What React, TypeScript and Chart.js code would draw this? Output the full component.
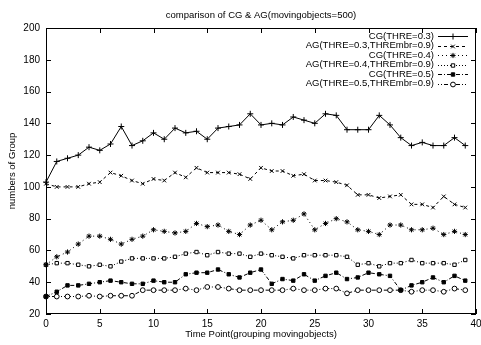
import React, { useEffect, useRef } from 'react';
import { Chart, registerables } from 'chart.js';
import { drawPoint } from 'chart.js/helpers';

Chart.register(...registerables);

const chartTitle = 'comparison of CG & AG(movingobjects=500)';
const xTitle = 'Time Point(grouping movingobjects)';
const yTitle = 'numbers of Group';

const timePoints = [0, 1, 2, 3, 4, 5, 6, 7, 8, 9, 10, 11, 12, 13, 14, 15, 16, 17, 18, 19, 20, 21, 22, 23, 24, 25, 26, 27, 28, 29, 30, 31, 32, 33, 34, 35, 36, 37, 38, 39];

const seriesLabels = [
  'CG(THRE=0.3)',
  'AG(THRE=0.3,THREmbr=0.9)',
  'CG(THRE=0.4)',
  'AG(THRE=0.4,THREmbr=0.9)',
  'CG(THRE=0.5)',
  'AG(THRE=0.5,THREmbr=0.9)',
];

const cg03 = [103, 116, 118, 120, 125, 123, 127, 138, 126, 129, 134, 130, 137, 134, 135, 130, 137, 138, 139, 146, 139, 140, 139, 144, 142, 140, 146, 145, 136, 136, 136, 145, 139, 131, 126, 128, 126, 126, 131, 126];
const ag03 = [102, 100, 100, 100, 102, 103, 109, 107, 104, 102, 105, 104, 109, 106, 112, 109, 109, 109, 108, 105, 112, 110, 110, 107, 108, 104, 104, 103, 101, 95, 95, 93, 94, 95, 89, 89, 87, 94, 89, 87];
const cg04 = [51, 56, 59, 64, 69, 69, 67, 64, 67, 69, 73, 72, 71, 72, 77, 75, 76, 72, 70, 76, 79, 73, 78, 79, 83, 73, 77, 80, 78, 73, 72, 70, 76, 76, 73, 73, 74, 70, 72, 70];
const ag04 = [51, 52, 52, 51, 50, 51, 50, 53, 55, 55, 55, 55, 56, 58, 59, 57, 59, 58, 58, 56, 58, 57, 56, 55, 57, 57, 57, 57, 56, 51, 52, 50, 52, 52, 54, 52, 52, 52, 51, 54];
const cg05 = [31, 34, 38, 38, 39, 40, 41, 40, 39, 39, 41, 40, 40, 45, 46, 46, 48, 45, 43, 46, 48, 39, 42, 41, 45, 41, 44, 46, 42, 43, 46, 45, 44, 35, 38, 40, 43, 40, 44, 41];
const ag05 = [31, 31, 31, 31, 31.5, 31, 31.5, 31.5, 31.5, 35, 35, 35, 35, 36, 35, 37, 37, 36, 35, 35, 35, 35, 35, 36, 35, 35, 36, 36, 33, 35, 35, 35, 35, 35, 34, 35, 35, 34, 36, 35];

const xTicks = [0, 5, 10, 15, 20, 25, 30, 35, 40];
const yTicks = [20, 40, 60, 80, 100, 120, 140, 160, 180, 200];

const seriesValues = [cg03, ag03, cg04, ag04, cg05, ag05];
const seriesDash = [[], [3, 3], [1, 3], [1, 2], [4, 2, 1, 2], [1, 2, 1, 2, 4, 2]];
const seriesPoint = ['cross', 'crossRot', 'star', 'rect', 'rect', 'circle'];
const seriesFill = ['#000', '#000', '#000', '#fff', '#000', '#fff'];
const seriesRadius = [3, 2.6, 2.6, 2.4, 2.4, 2.4];

const FONT = '"Liberation Sans", Arial, sans-serif';

const decorPlugin = {
  id: 'decor',
  afterDraw(chart: any) {
    const { ctx, chartArea: a, scales } = chart;
    const xs = scales.x;
    const ys = scales.y;
    ctx.save();
    ctx.strokeStyle = '#000';
    ctx.lineWidth = 1;
    ctx.setLineDash([]);
    ctx.strokeRect(a.left + 0.5, a.top + 0.5, a.right - a.left - 1, a.bottom - a.top - 1);
    const tl = 5;
    ctx.beginPath();
    xTicks.forEach((v) => {
      const px = Math.round(xs.getPixelForValue(v)) + 0.5;
      ctx.moveTo(px, a.bottom);
      ctx.lineTo(px, a.bottom - tl);
      ctx.moveTo(px, a.top);
      ctx.lineTo(px, a.top + tl);
    });
    yTicks.forEach((v) => {
      const py = Math.round(ys.getPixelForValue(v)) + 0.5;
      ctx.moveTo(a.left, py);
      ctx.lineTo(a.left + tl, py);
      ctx.moveTo(a.right, py);
      ctx.lineTo(a.right - tl, py);
    });
    ctx.stroke();

    ctx.fillStyle = '#000';
    ctx.font = `9.5px ${FONT}`;
    ctx.textAlign = 'center';
    ctx.textBaseline = 'middle';
    ctx.fillText(chartTitle, (a.left + a.right) / 2, 15);
    ctx.fillText(xTitle, (a.left + a.right) / 2, 334);
    ctx.save();
    ctx.translate(12, (a.top + a.bottom) / 2);
    ctx.rotate(-Math.PI / 2);
    ctx.fillText(yTitle, 0, 0);
    ctx.restore();

    // legend
    seriesLabels.forEach((label, i) => {
      const y = 36 + i * 9.5;
      ctx.fillStyle = '#000';
      ctx.textAlign = 'right';
      ctx.fillText(label, 434, y);
      ctx.beginPath();
      ctx.setLineDash(seriesDash[i]);
      ctx.strokeStyle = '#000';
      ctx.lineWidth = 1;
      ctx.moveTo(438, Math.round(y) + 0.5);
      ctx.lineTo(468, Math.round(y) + 0.5);
      ctx.stroke();
      ctx.setLineDash([]);
      ctx.fillStyle = seriesFill[i];
      ctx.strokeStyle = '#000';
      drawPoint(ctx, { pointStyle: seriesPoint[i], radius: seriesRadius[i], rotation: 0, borderWidth: 1 } as any, 453, Math.round(y) + 0.5);
    });
    ctx.restore();
  },
};

export default function App() {
  const ref = useRef<HTMLCanvasElement>(null);
  useEffect(() => {
    const datasets = seriesLabels.map((label, i) => ({
      label,
      data: seriesValues[i].map((v, j) => ({ x: timePoints[j], y: v })),
      borderColor: '#000',
      borderWidth: 1,
      borderDash: seriesDash[i],
      pointStyle: seriesPoint[i],
      pointRadius: seriesRadius[i],
      pointBorderWidth: 1,
      pointBorderColor: '#000',
      pointBackgroundColor: seriesFill[i],
      backgroundColor: seriesFill[i],
      fill: false,
      tension: 0,
      clip: false as any,
    }));
    const chart = new Chart(ref.current!, {
      type: 'line',
      data: { datasets },
      plugins: [decorPlugin],
      options: {
        responsive: false,
        animation: false,
        events: [],
        layout: { padding: { top: 28, right: 2, left: 0, bottom: 0 } },
        plugins: { legend: { display: false }, title: { display: false }, tooltip: { enabled: false } },
        scales: {
          x: {
            type: 'linear',
            min: 0,
            max: 40,
            grid: { display: false, drawTicks: false },
            border: { display: false },
            ticks: { stepSize: 5, color: '#000', padding: 4, font: { family: FONT, size: 10 }, maxRotation: 0 },
            afterFit: (s: any) => {
              s.height = 31;
              s.paddingLeft = 0;
              s.paddingRight = 0;
            },
          },
          y: {
            type: 'linear',
            min: 20,
            max: 200,
            grid: { display: false, drawTicks: false },
            border: { display: false },
            ticks: { stepSize: 20, color: '#000', padding: 6, font: { family: FONT, size: 10 } },
            afterFit: (s: any) => {
              s.width = 46;
              s.paddingTop = 0;
              s.paddingBottom = 0;
            },
          },
        },
      },
    });
    return () => chart.destroy();
  }, []);
  return (
    <div style={{ position: 'fixed', left: 0, top: 0, width: 481, height: 345, background: '#fff' }}>
      <canvas ref={ref} width={481} height={345} style={{ display: 'block' }} />
    </div>
  );
}
